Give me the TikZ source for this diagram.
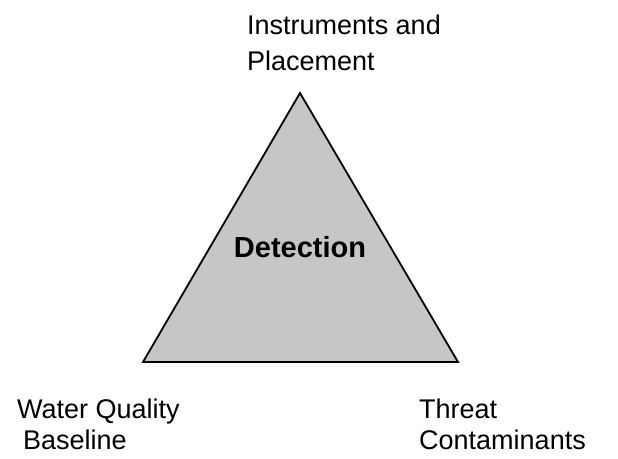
\documentclass[tikz,border=0pt]{standalone}
\usepackage{fontspec}
\setmainfont{Liberation Sans}
\usepackage{tikz}
\usetikzlibrary{positioning}
\tikzset{
  corner label/.style={anchor=base west,inner sep=0pt,align=left,font=\fontsize{27}{31}\selectfont},
  centre label/.style={inner sep=0pt,font=\fontsize{29}{32}\bfseries\selectfont},
  face/.style={draw=black,line width=1.8pt,fill=gray!45,line join=miter}
}

\begin{document}
\begin{tikzpicture}[x=1pt,y=-1pt]
		    \useasboundingbox (0,0) rectangle (618,458);
		    \coordinate (top) at (300,93);
		    \coordinate (left) at (143,362);
		    \coordinate (right) at (458,362);
		    \draw [face] (top) -- (left) -- (right) -- cycle;
		    \node [centre label] (detection) at (300,247) {Detection};
		    \node [corner label,font=\fontsize{27}{36}\selectfont] (instruments) at (247,70) {Instruments and\\Placement};
		    \node [corner label] (water) at (17,449) {Water Quality\\\hspace*{6pt}Baseline};
		    \node [corner label] (threat) at (419,449) {Threat\\Contaminants};
		  \end{tikzpicture}
\end{document}
